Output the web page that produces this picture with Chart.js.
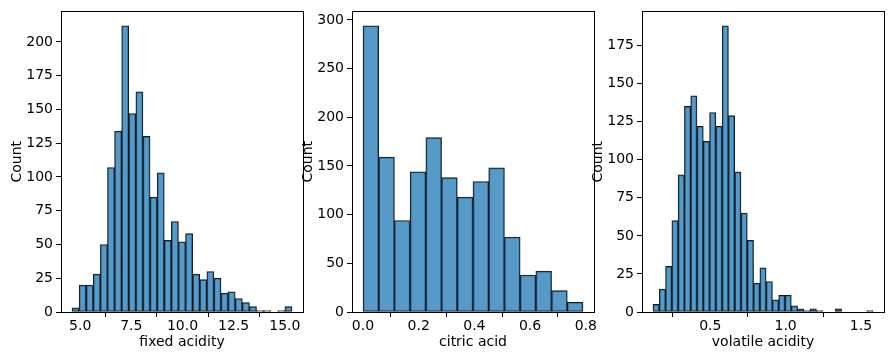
<!DOCTYPE html>
<html>
<head>
<meta charset="utf-8">
<script src="https://cdn.jsdelivr.net/npm/chart.js@4"></script>
<style>
  html, body { margin: 0; padding: 0; background: #fff; }
  #wrap { position: relative; width: 893px; height: 361px; overflow: hidden; }
  #wrap canvas { position: absolute; top: 0; }
</style>
</head>
<body>
<div id="wrap">
  <canvas id="fixed" width="318" height="361" style="left:0px"></canvas>
  <canvas id="citric" width="318" height="361" style="left:291px"></canvas>
  <canvas id="volatile" width="312" height="361" style="left:581px"></canvas>
</div>
<script>
// bin edges (first, last) and counts
const fixedAcidityRange  = [4.6, 15.35];
const fixedAcidityCounts = [3, 20, 20, 28, 50, 107, 134, 212, 147, 163, 130, 85, 103, 53, 67,
                            52, 58, 28, 24, 30, 25, 14, 15, 10, 7, 4, 1, 1, 0, 1, 4];
const fixedAcidityTicks  = [5.0, 7.5, 10.0, 12.5, 15.0];
const fixedCountTicks    = [0, 25, 50, 75, 100, 125, 150, 175, 200];

const citricAcidRange  = [0, 0.79];
const citricAcidCounts = [294, 159, 94, 144, 179, 138, 118, 134, 148, 77, 38, 42, 22, 10];
const citricAcidTicks  = [0.0, 0.2, 0.4, 0.6, 0.8];
const citricCountTicks = [0, 50, 100, 150, 200, 250, 300];

const volatileAcidityRange  = [0.12, 1.58];
const volatileAcidityCounts = [5, 15, 30, 60, 90, 135, 142, 122, 112, 131, 122, 188, 129, 92, 65,
                               47, 19, 29, 20, 8, 11, 11, 4, 2, 1, 2, 1, 0, 0, 2, 0, 0, 0, 0, 1];
const volatileAcidityTicks  = [0.5, 1.0, 1.5];
const volatileCountTicks    = [0, 25, 50, 75, 100, 125, 150, 175];

const FONT = { family: 'DejaVu Sans', size: 14 };

// matplotlib style frame around the plot area
const frame = {
  id: 'frame',
  afterDatasetsDraw(chart) {
    const { ctx, chartArea: a } = chart;
    const l = Math.round(a.left - 0.5) + 0.5, r = Math.round(a.right - 0.5) + 0.5;
    const t = Math.round(a.top - 0.5) + 0.5, b = Math.round(a.bottom - 0.5) + 0.5;
    ctx.save();
    ctx.strokeStyle = '#000';
    ctx.lineWidth = 1;
    ctx.strokeRect(l, t, r - l, b - t);
    ctx.restore();
  }
};

function histogram(id, label, range, counts, xTicks, yTicks, rightPad) {
  const w = (range[1] - range[0]) / counts.length;
  const pts = counts.map((c, i) => ({ x: range[0] + w * (i + 0.5), y: c }));
  const pad = (range[1] - range[0]) * 0.05;
  const yMax = Math.max(...counts) * 1.05;

  new Chart(document.getElementById(id), {
    type: 'bar',
    data: {
      datasets: [{
        data: pts,
        backgroundColor: 'rgba(31,119,180,0.75)',
        borderColor: 'rgba(0,0,0,0.9)',
        borderWidth: 1,
        borderSkipped: false,
        barPercentage: 1,
        categoryPercentage: 1,
      }],
    },
    options: {
      responsive: false,
      animation: false,
      layout: { padding: { top: 6, right: rightPad, left: 0, bottom: 0 } },
      plugins: { legend: { display: false }, tooltip: { enabled: false } },
      scales: {
        x: {
          type: 'linear',
          offset: false,
          min: range[0] - pad,
          max: range[1] + pad,
          afterBuildTicks: s => { s.ticks = xTicks.map(v => ({ value: v })); },
          afterFit: s => { s.height = 49; },
          grid: { drawOnChartArea: false, drawTicks: true, tickLength: 5, color: '#000' },
          border: { display: false },
          ticks: { color: '#000', font: FONT, padding: 1, maxRotation: 0, autoSkip: false,
                   callback: v => Number(v).toFixed(1) },
          title: { display: true, text: label, color: '#000', font: FONT,
                   padding: { top: 0, bottom: 10 } },
        },
        y: {
          min: 0,
          max: yMax,
          afterBuildTicks: s => { s.ticks = yTicks.map(v => ({ value: v })); },
          afterFit: s => { s.width = 61; },
          grid: { drawOnChartArea: false, drawTicks: true, tickLength: 5, color: '#000' },
          border: { display: false },
          ticks: { color: '#000', font: FONT, padding: 3, callback: v => String(v) },
          title: { display: true, text: 'Count', color: '#000', font: FONT,
                   padding: { top: 9, bottom: 0 } },
        },
      },
    },
    plugins: [frame],
  });
}

histogram('fixed', 'fixed acidity', fixedAcidityRange, fixedAcidityCounts,
          fixedAcidityTicks, fixedCountTicks, 15);
histogram('citric', 'citric acid', citricAcidRange, citricAcidCounts,
          citricAcidTicks, citricCountTicks, 15);
histogram('volatile', 'volatile acidity', volatileAcidityRange, volatileAcidityCounts,
          volatileAcidityTicks, volatileCountTicks, 9);
</script>
</body>
</html>
